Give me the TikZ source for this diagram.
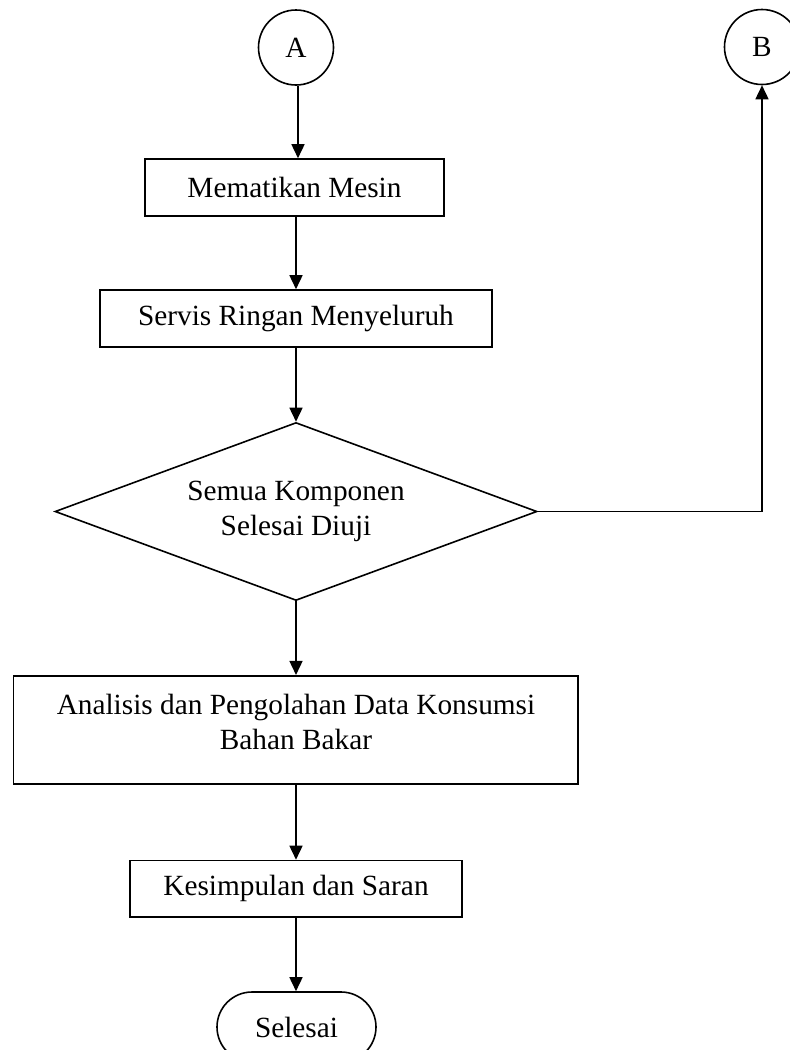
\documentclass[tikz,border=0pt]{standalone}
\usepackage{fontspec}
\setmainfont{Liberation Serif}
\usetikzlibrary{arrows.meta,shapes.geometric,shapes.misc,calc}

\begin{document}
\begin{tikzpicture}[x=1pt,y=-1pt,
  every node/.style={font=\fontsize{29.3}{35.5}\selectfont},
  stepbox/.style={draw, line width=1.6pt, rectangle, inner sep=0pt, align=center},
  connector/.style={draw, line width=1.6pt, circle, inner sep=0pt, minimum size=75pt},
  decision/.style={draw, line width=1.6pt, diamond, inner sep=0pt, aspect=2.7, align=center},
  terminal/.style={draw, line width=1.6pt, rounded rectangle, inner sep=0pt},
  flow/.style={line width=1.6pt, -{Triangle[length=14pt,width=13pt]}}]

  % page frame
  \clip (0,0) rectangle (790,1050);
  \fill[white] (0,0) rectangle (790,1050);

  % off-page connectors
  \node[connector] (A) at (296,47.5) {A};
  \node[connector] (B) at (762,47) {B};

  % process steps
  \node[stepbox, minimum width=299pt, minimum height=57pt] (mem) at (294.5,187.5) {Mematikan Mesin};
  \node[stepbox, minimum width=392pt, minimum height=57pt] (serv) at (296,318.5) {Servis Ringan Menyeluruh};
  \node[decision, minimum width=482pt, minimum height=178pt] (dia) at (296,511.5) {Semua Komponen\\Selesai Diuji};
  \node[stepbox, minimum width=564.5pt, minimum height=108.5pt] (ana) at (295.75,730) {};
  \node[align=center] (anatext) at (296,722) {Analisis dan Pengolahan Data Konsumsi\\Bahan Bakar};
  \node[stepbox, minimum width=332.5pt, minimum height=56.5pt] (kes) at (296,888.75) {Kesimpulan dan Saran};
  \node[terminal, minimum width=159pt, minimum height=70pt] (sel) at (296.5,1027) {Selesai};

  % connectors
  \draw[flow] ([xshift=2pt]A.south) -- ([xshift=2pt]A.south |- mem.north);
  \draw[flow] (serv.north |- mem.south) -- (serv.north);
  \draw[flow] (serv.south) -- (dia.north);
  \draw[flow] (dia.east) -- (B.south |- dia.east) -- (B.south);
  \draw[flow] (dia.south) -- (dia.south |- ana.north);
  \draw[flow] (kes.north |- ana.south) -- (kes.north);
  \draw[flow] (kes.south) -- (kes.south |- sel.north);
\end{tikzpicture}
\end{document}
